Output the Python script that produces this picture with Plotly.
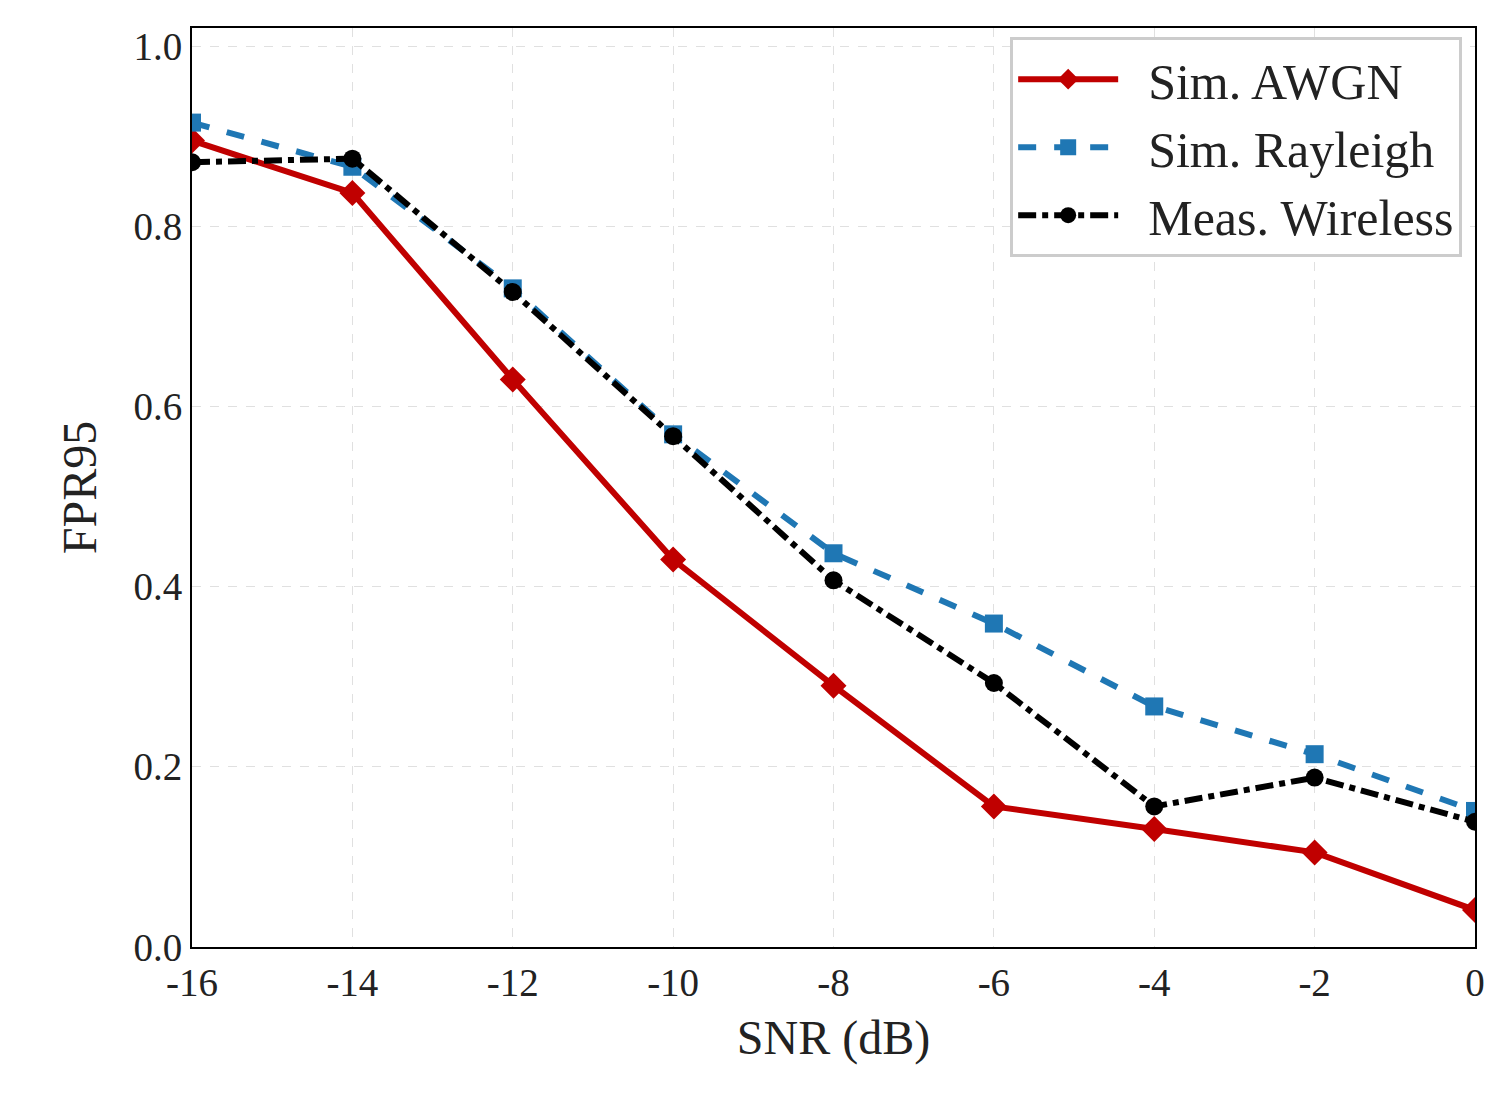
import plotly.graph_objects as go

snr = [-16, -14, -12, -10, -8, -6, -4, -2, 0]
awgn = [0.895, 0.837, 0.630, 0.430, 0.290, 0.156, 0.131, 0.105, 0.041]
rayleigh = [0.915, 0.866, 0.731, 0.569, 0.437, 0.359, 0.267, 0.214, 0.151]
wireless = [0.871, 0.875, 0.727, 0.567, 0.407, 0.293, 0.156, 0.188, 0.139]
x_ticks = [-16, -14, -12, -10, -8, -6, -4, -2, 0]
y_ticks = [0.0, 0.2, 0.4, 0.6, 0.8, 1.0]

fig = go.Figure()
fig.add_trace(go.Scatter(x=snr, y=awgn, mode='lines+markers', name='  Sim. AWGN',
                         line=dict(color='#c00000', width=6),
                         marker=dict(symbol='diamond', size=20, color='#c00000')))
fig.add_trace(go.Scatter(x=snr, y=rayleigh, mode='lines+markers', name='  Sim. Rayleigh',
                         line=dict(color='#1f77b4', width=6, dash='dash'),
                         marker=dict(symbol='square', size=18, color='#1f77b4')))
fig.add_trace(go.Scatter(x=snr, y=wireless, mode='lines+markers', name='  Meas. Wireless',
                         line=dict(color='black', width=6, dash='dashdot'),
                         marker=dict(symbol='circle', size=18, color='black')))

axis_common = dict(showline=True, linecolor='black', linewidth=2, mirror=True,
                   showgrid=True, gridcolor='#e0e0e0', griddash='dash', gridwidth=1,
                   zeroline=False, ticks='', tickfont=dict(size=39, color='#222'))
fig.update_layout(
    width=1501, height=1107,
    paper_bgcolor='white', plot_bgcolor='white',
    font=dict(family='Liberation Serif', color='#222'),
    margin=dict(l=184, r=34, t=20, b=168),
    xaxis=dict(range=[-16, 0], tickvals=x_ticks, ticktext=[str(v) for v in x_ticks],
               title=dict(text='SNR (dB)', font=dict(size=48), standoff=18), **axis_common),
    yaxis=dict(range=[0, 1.02], tickvals=y_ticks, ticktext=[f'{v:.1f}' for v in y_ticks],
               title=dict(text='FPR95', font=dict(size=48), standoff=22), **axis_common),
    legend=dict(x=0.99, y=0.99, xanchor='right', yanchor='top',
                bgcolor='white', bordercolor='#ccc', borderwidth=3,
                font=dict(size=50), itemwidth=100),
)

fig.write_html("out.html")
